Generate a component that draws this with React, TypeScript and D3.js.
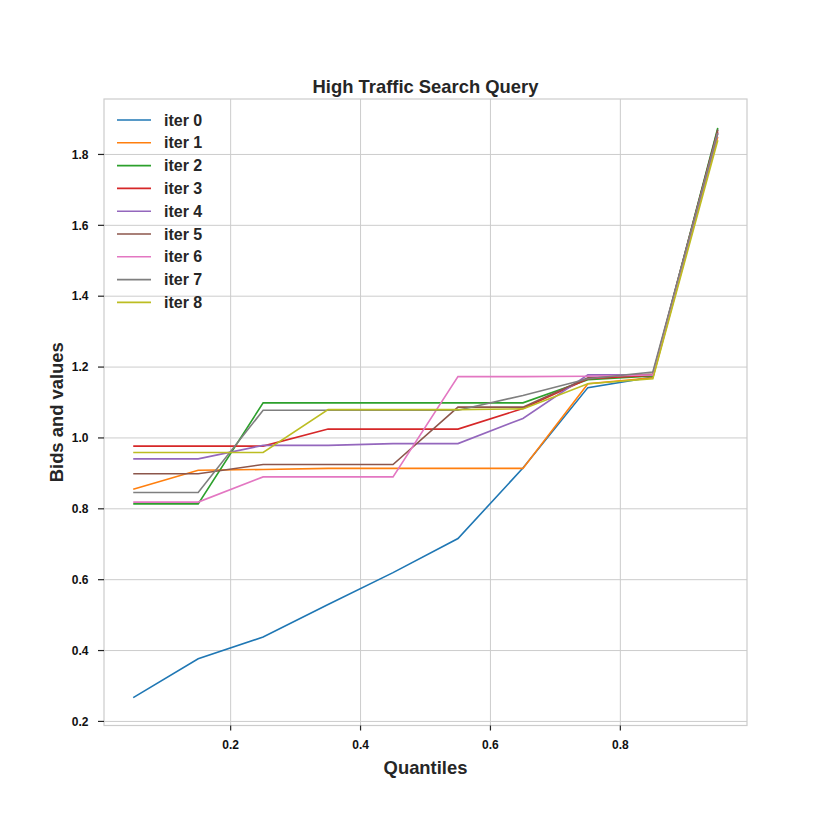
import React from "react";
import * as d3 from "d3";

const quantiles = [0.05, 0.15, 0.25, 0.35, 0.45, 0.55, 0.65, 0.75, 0.85, 0.95];
const seriesNames = ["iter 0", "iter 1", "iter 2", "iter 3", "iter 4", "iter 5", "iter 6", "iter 7", "iter 8"];
const iter0 = [0.267, 0.377, 0.438, 0.53, 0.62, 0.716, 0.915, 1.142, 1.172, 1.87];
const iter1 = [0.855, 0.909, 0.911, 0.914, 0.914, 0.914, 0.914, 1.153, 1.17, 1.85];
const iter2 = [0.814, 0.814, 1.099, 1.099, 1.099, 1.099, 1.099, 1.164, 1.175, 1.875];
const iter3 = [0.977, 0.977, 0.977, 1.025, 1.025, 1.025, 1.083, 1.167, 1.177, 1.865];
const iter4 = [0.941, 0.941, 0.979, 0.979, 0.984, 0.984, 1.055, 1.178, 1.178, 1.86];
const iter5 = [0.899, 0.899, 0.925, 0.925, 0.925, 1.087, 1.087, 1.17, 1.18, 1.87];
const iter6 = [0.819, 0.819, 0.89, 0.89, 0.89, 1.173, 1.173, 1.174, 1.178, 1.86];
const iter7 = [0.846, 0.846, 1.078, 1.078, 1.078, 1.078, 1.12, 1.167, 1.186, 1.86];
const iter8 = [0.959, 0.959, 0.959, 1.08, 1.08, 1.08, 1.082, 1.153, 1.167, 1.84];
const allSeries = [iter0, iter1, iter2, iter3, iter4, iter5, iter6, iter7, iter8];
const colors = ["#1f77b4", "#ff7f0e", "#2ca02c", "#d62728", "#9467bd", "#8c564b", "#e377c2", "#7f7f7f", "#bcbd22"];
const xTicks = [0.2, 0.4, 0.6, 0.8];
const yTicks = [0.2, 0.4, 0.6, 0.8, 1.0, 1.2, 1.4, 1.6, 1.8];
const title = "High Traffic Search Query";
const xLabel = "Quantiles";
const yLabel = "Bids and values";

export default function App() {
  const W = 830, H = 830;
  const L = 104, R = 747, T = 99, B = 725.5;
  const x = d3.scaleLinear().domain([0.005, 0.995]).range([L, R]);
  const y = d3.scaleLinear().domain([0.1885, 1.9565]).range([B, T]);
  const line = d3.line<number>().x((_, i) => x(quantiles[i])).y((d) => y(d));
  const font = "'Liberation Sans', Arial, sans-serif";
  const grid = "#cccccc";
  return (
    <svg width={W} height={H} style={{ position: "absolute", left: 0, top: 0 }} fontFamily={font}>
      <rect x={0} y={0} width={W} height={H} fill="#fff" />
      {xTicks.map((t) => (
        <line key={"gx" + t} x1={x(t)} x2={x(t)} y1={T} y2={B} stroke={grid} strokeWidth={1} />
      ))}
      {yTicks.map((t) => (
        <line key={"gy" + t} x1={L} x2={R} y1={y(t)} y2={y(t)} stroke={grid} strokeWidth={1} />
      ))}
      <rect x={L} y={T} width={R - L} height={B - T} fill="none" stroke={grid} strokeWidth={1.2} />
      {xTicks.map((t) => (
        <g key={"tx" + t}>
          <line x1={x(t)} x2={x(t)} y1={B} y2={B + 5} stroke="#222" strokeWidth={1.2} />
          <text x={x(t)} y={B + 23} textAnchor="middle" fontSize={12} fontWeight="bold" fill="#111">
            {t.toFixed(1)}
          </text>
        </g>
      ))}
      {yTicks.map((t) => (
        <g key={"ty" + t}>
          <line x1={L - 6} x2={L} y1={y(t)} y2={y(t)} stroke="#222" strokeWidth={1.2} />
          <text x={L - 15.5} y={y(t) + 4.3} textAnchor="end" fontSize={12} fontWeight="bold" fill="#111">
            {t.toFixed(1)}
          </text>
        </g>
      ))}
      {allSeries.map((s, i) => (
        <path key={"s" + i} d={line(s) || ""} fill="none" stroke={colors[i]} strokeWidth={1.6} />
      ))}
      {seriesNames.map((n, i) => (
        <g key={"lg" + i}>
          <line x1={117} x2={151} y1={120 + i * 22.8} y2={120 + i * 22.8} stroke={colors[i]} strokeWidth={1.6} />
          <text x={164} y={120 + i * 22.8 + 5.5} fontSize={16} fontWeight="bold" fill="#262626">
            {n}
          </text>
        </g>
      ))}
      <text x={(L + R) / 2} y={92.5} textAnchor="middle" fontSize={18.4} fontWeight="bold" fill="#262626">
        {title}
      </text>
      <text x={(L + R) / 2} y={774} textAnchor="middle" fontSize={18.4} fontWeight="bold" fill="#262626">
        {xLabel}
      </text>
      <text
        transform={`translate(63, ${(T + B) / 2}) rotate(-90)`}
        textAnchor="middle"
        fontSize={18.4}
        fontWeight="bold"
        fill="#262626"
      >
        {yLabel}
      </text>
    </svg>
  );
}
